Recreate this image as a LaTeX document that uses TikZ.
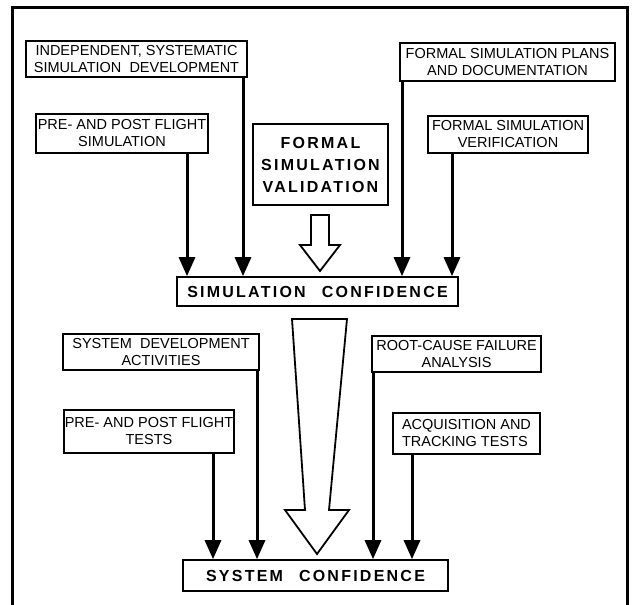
\documentclass[tikz,border=0pt]{standalone}
\usepackage{fontspec}
\setmainfont{Liberation Sans}
\usetikzlibrary{arrows.meta}

\tikzset{
  box/.style={draw, line width=1.6pt, inner sep=0pt, align=center,
    font=\fontsize{14.5}{17}\selectfont},
  heavybox/.style={draw, line width=1.6pt, inner sep=0pt, align=center,
    font=\fontsize{16}{22}\selectfont\bfseries\addfontfeature{LetterSpace=14}},
  feed/.style={line width=3pt, -{Triangle[width=16pt,length=19pt]}},
  hollow/.style={draw, line width=1.8pt, line join=miter, fill=white}
}

\begin{document}
\begin{tikzpicture}[x=1pt, y=-1pt]
    \useasboundingbox (0,0) rectangle (633,605);
    \draw[line width=3pt, line join=miter] (12,605) -- (12,7) -- (627,7) -- (627,605);

    % simulation side
    \node[box, minimum width=221pt, minimum height=36pt] (indep) at (136.5,59)
      {INDEPENDENT, SYSTEMATIC\\SIMULATION\ \ DEVELOPMENT};
    \node[box, minimum width=172pt, minimum height=39pt] (presim) at (122,133.5)
      {PRE- AND POST FLIGHT\\SIMULATION};
    \node[heavybox, minimum width=135pt, minimum height=81pt] (valid) at (320.5,164.5)
      {FORMAL\\SIMULATION\\VALIDATION};
    \node[box, minimum width=215pt, minimum height=38pt] (plans) at (507.5,62)
      {FORMAL SIMULATION PLANS\\AND DOCUMENTATION};
    \node[box, minimum width=160pt, minimum height=37pt] (verif) at (508,134.5)
      {FORMAL SIMULATION\\VERIFICATION};
    \node[heavybox, minimum width=281pt, minimum height=29pt] (simconf) at (317.5,291.5)
      {SIMULATION\hspace{16pt}CONFIDENCE};

    \draw[feed] (presim.south -| 187,0) -- (simconf.north -| 187,0);
    \draw[feed] (indep.south -| 243,0) -- (simconf.north -| 243,0);
    \draw[feed] (plans.south -| 402,0) -- (simconf.north -| 402,0);
    \draw[feed] (verif.south -| 452,0) -- (simconf.north -| 452,0);
    \draw[hollow] (311,215) -- (329,215) -- (329,245) -- (340,245) -- (320,271)
      -- (300,245) -- (311,245) -- cycle;

    % system side
    \node[box, minimum width=196pt, minimum height=36pt] (sysdev) at (161,352)
      {SYSTEM\ \ DEVELOPMENT\\ACTIVITIES};
    \node[box, minimum width=170pt, minimum height=43pt] (pretest) at (149,431.5)
      {PRE- AND POST FLIGHT\\TESTS};
    \node[box, minimum width=169pt, minimum height=36pt] (rootc) at (456.5,354)
      {ROOT-CAUSE FAILURE\\ANALYSIS};
    \node[box, align=left, minimum width=147pt, minimum height=41pt] (acq) at (466.5,433.5)
      {ACQUISITION AND\\TRACKING TESTS};
    \node[heavybox, minimum width=265pt, minimum height=31pt] (sysconf) at (315.5,575.5)
      {SYSTEM\hspace{16pt}CONFIDENCE};

    \draw[feed] (pretest.south -| 213,0) -- (sysconf.north -| 213,0);
    \draw[feed] (sysdev.south -| 257,0) -- (sysconf.north -| 257,0);
    \draw[feed] (rootc.south -| 373,0) -- (sysconf.north -| 373,0);
    \draw[feed] (acq.south -| 412,0) -- (sysconf.north -| 412,0);
    \draw[hollow] (292,319) -- (347,319) -- (329,510) -- (349,510) -- (317,554)
      -- (285,510) -- (305,510) -- cycle;
\end{tikzpicture}
\end{document}
